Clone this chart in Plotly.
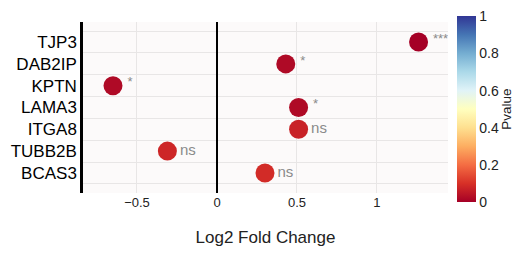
import plotly.graph_objects as go

genes = ["BCAS3", "TUBB2B", "ITGA8", "LAMA3", "KPTN", "DAB2IP", "TJP3"]
log2fc = [0.30, -0.31, 0.51, 0.51, -0.65, 0.43, 1.26]
pvalues = [0.09, 0.08, 0.07, 0.02, 0.02, 0.02, 0.0005]
signif = ["ns", "ns", "ns", "*", "*", "*", "***"]

ypos = list(range(len(genes)))
font = "Arial, Liberation Sans, Helvetica, sans-serif"

fig = go.Figure()
fig.add_trace(go.Scatter(
    x=log2fc, y=ypos, mode="markers",
    marker=dict(size=19, color=pvalues, colorscale="RdYlBu", cmin=0, cmax=1,
                line=dict(width=0),
                colorbar=dict(
                    tickvals=[0, 0.2, 0.4, 0.6, 0.8, 1], ticktext=["0", "0.2", "0.4", "0.6", "0.8", "1"],
                    tickfont=dict(size=14, color="#222", family=font),
                    thickness=19, len=1.085, lenmode="fraction", y=0.49, yanchor="middle",
                    x=1.025, xanchor="left", xpad=0, ypad=0, outlinewidth=0, ticks="")),
    showlegend=False, hoverinfo="skip", cliponaxis=False))

ns_idx = [i for i, s in enumerate(signif) if s == "ns"]
st_idx = [i for i, s in enumerate(signif) if s != "ns"]
fig.add_trace(go.Scatter(
    x=[log2fc[i] for i in ns_idx], y=[ypos[i] for i in ns_idx], mode="text",
    text=["   " + signif[i] for i in ns_idx], textposition="middle right",
    textfont=dict(size=15, color="#8a8a8a", family=font), showlegend=False, hoverinfo="skip"))
fig.add_trace(go.Scatter(
    x=[log2fc[i] for i in st_idx], y=[ypos[i] + 0.12 for i in st_idx], mode="text",
    text=["    " + signif[i] for i in st_idx], textposition="middle right",
    textfont=dict(size=13, color="#8a8a8a", family=font), showlegend=False, hoverinfo="skip",
    cliponaxis=True))

fig.add_annotation(text="Pvalue", xref="paper", yref="paper", x=1.158, y=0.491,
                   textangle=-90, showarrow=False, xanchor="center", yanchor="middle",
                   font=dict(size=13.5, color="#222", family=font))

fig.update_layout(
    width=512, height=253,
    margin=dict(l=75, r=72, t=14, b=68, autoexpand=False),
    paper_bgcolor="white", plot_bgcolor="#fcfafa",
    font=dict(family=font, color="#222"),
)
fig.update_xaxes(
    range=[-0.8375, 1.444], tickvals=[-0.5, 0, 0.5, 1], ticktext=["\u22120.5", "0", "0.5", "1"],
    showgrid=True, gridcolor="#e8e6e6", gridwidth=1,
    zeroline=True, zerolinecolor="black", zerolinewidth=1.5,
    showline=False, ticks="", tickfont=dict(size=13, color="#222"), automargin=False,
    title=dict(text="Log2 Fold Change", font=dict(size=17, color="#222"), standoff=22),
)
fig.update_yaxes(
    range=[-0.92, 6.92], tickvals=ypos, ticktext=genes,
    showgrid=False, zeroline=False, automargin=False,
    showline=True, linecolor="black", linewidth=2.5, ticks="",
    tickfont=dict(size=17, color="black"),
    minor=dict(tickvals=[i - 0.5 for i in range(len(genes) + 1)], showgrid=True,
               gridcolor="#e8e6e6", gridwidth=1, ticks=""),
)
fig.write_html("out.html")
